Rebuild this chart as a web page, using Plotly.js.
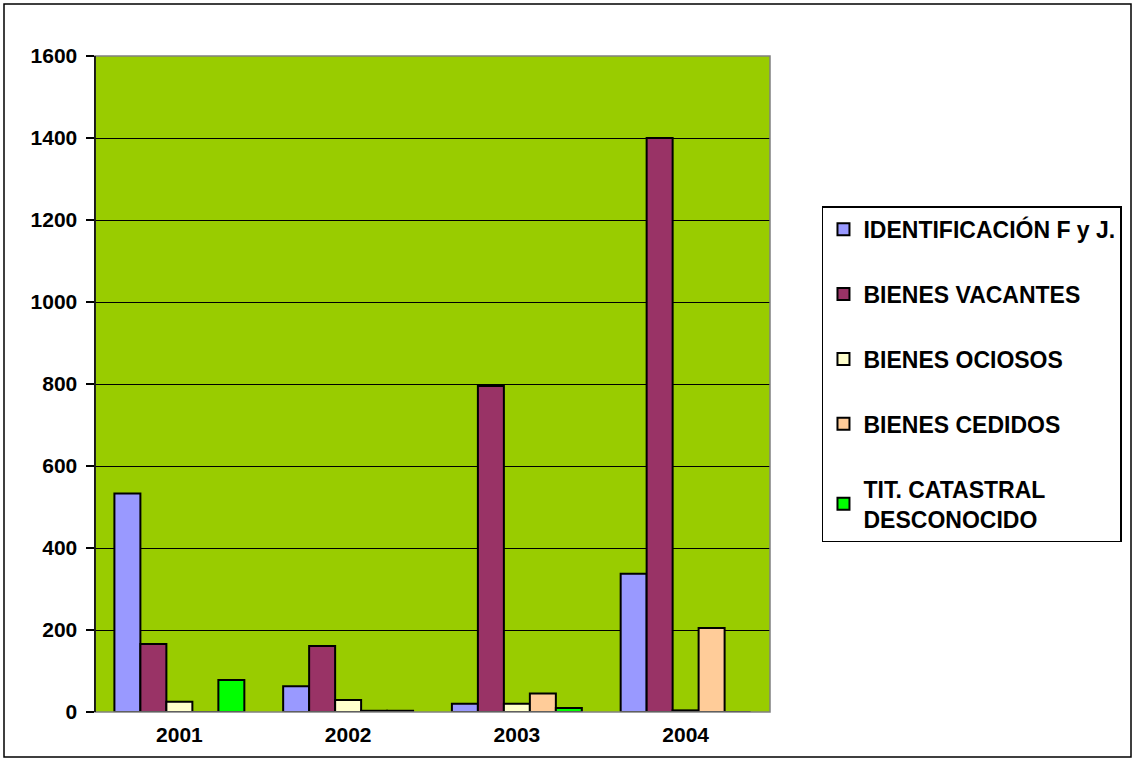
<!DOCTYPE html>
<html>
<head>
<meta charset="utf-8">
<script src="https://cdn.plot.ly/plotly-3.0.1.min.js"></script>
<style>html,body{margin:0;padding:0;background:#fff;}#chart{width:1133px;height:760px;}</style>
</head>
<body>
<div id="chart"></div>
<script>
const years = ['2001', '2002', '2003', '2004'];
const seriesNames = ['IDENTIFICACIÓN F y J.', 'BIENES VACANTES', 'BIENES OCIOSOS', 'BIENES CEDIDOS', 'TIT. CATASTRAL<br>DESCONOCIDO'];
const identificacion = [533, 63, 20, 337];
const vacantes = [166, 161, 795, 1400];
const ociosos = [25, 29, 20, 4];
const cedidos = [0, 3, 45, 205];
const titCatastral = [78, 3, 10, 0];
const colors = ['#9999FF', '#993366', '#FFFFCC', '#FFCC99', '#00FF00'];

const allSeries = [identificacion, vacantes, ociosos, cedidos, titCatastral];
const traces = allSeries.map((vals, i) => ({
  type: 'bar',
  name: seriesNames[i],
  x: years,
  y: vals,
  legendgroup: 'g' + i,
  marker: {color: colors[i], line: {color: '#000', width: 2}},
  hoverinfo: 'x+y+name'
}));

const layout = {
  width: 1133, height: 760,
  margin: {l: 95, r: 363, t: 56, b: 48, autoexpand: false},
  paper_bgcolor: '#FFFFFF',
  plot_bgcolor: '#99CC00',
  font: {family: 'Arial, "Liberation Sans", sans-serif', color: '#000'},
  barmode: 'group',
  bargap: 0.23,
  bargroupgap: 0,
  showlegend: true,
  legend: {
    x: 1.077, y: 0.771, xanchor: 'left', yanchor: 'top',
    bordercolor: '#000', borderwidth: 1.5, bgcolor: '#fff',
    font: {size: 23, family: 'Arial, "Liberation Sans", sans-serif', weight: 'bold', color: '#000'},
    traceorder: 'grouped', tracegroupgap: 32,
    itemwidth: 30,
    itemclick: false
  },
  xaxis: {
    type: 'category',
    showgrid: false, zeroline: false, showline: false,
    ticks: '',
    tickfont: {size: 21, weight: 'bold'},
    ticklabelstandoff: 8
  },
  yaxis: {
    range: [0, 1600], dtick: 200,
    showgrid: true, gridcolor: '#000', gridwidth: 1,
    zeroline: false,
    showline: true, linecolor: '#000', linewidth: 1.5,
    ticks: 'outside', ticklen: 8, tickcolor: '#000', tickwidth: 1.5,
    tickfont: {size: 21, weight: 'bold'},
    ticklabelstandoff: 4
  },
  shapes: [
    {type: 'rect', xref: 'paper', yref: 'paper', x0: 0, x1: 1, y0: 0, y1: 1,
     line: {color: '#808080', width: 1.5}, fillcolor: 'rgba(0,0,0,0)', layer: 'above'},
    {type: 'line', xref: 'paper', yref: 'paper', x0: 0, x1: 0, y0: 0, y1: 1,
     line: {color: '#000', width: 1.5}, layer: 'above'},
    {type: 'rect', xref: 'paper', yref: 'paper',
     x0: -91 / 675, x1: 1036 / 675, y0: -45 / 656, y1: 708 / 656,
     line: {color: '#000', width: 1.5}, fillcolor: 'rgba(0,0,0,0)', layer: 'below'}
  ]
};

Plotly.newPlot('chart', traces, layout, {displayModeBar: false, staticPlot: true});
</script>
</body>
</html>
